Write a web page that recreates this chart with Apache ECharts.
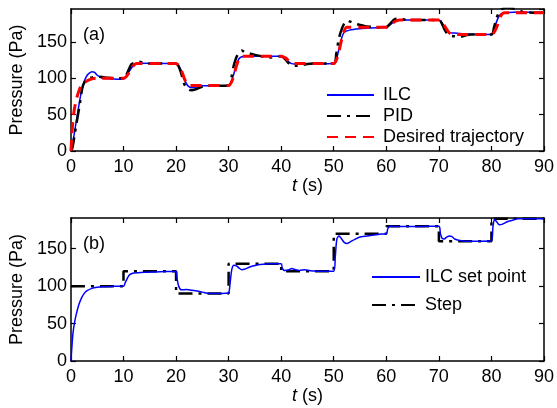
<!DOCTYPE html>
<html>
<head>
<meta charset="utf-8">
<script src="https://cdn.jsdelivr.net/npm/echarts@6.0.0/dist/echarts.min.js"></script>
<style>
  html, body { margin: 0; padding: 0; background: #fff; }
  #chart { width: 557px; height: 408px; }
</style>
</head>
<body>
<div id="chart"></div>
<script>
// panel (a): tracking results
const desiredT = [0, 0.3, 0.6, 1, 1.5, 2, 3, 4, 5,
  10, 10.5, 11, 11.5, 12, 12.5, 20, 20.5, 21, 21.5, 22, 22.5,
  30, 30.5, 31, 31.5, 32, 32.5, 40, 40.5, 41, 41.5, 42, 42.5,
  50, 50.5, 51, 51.5, 52, 52.5, 60, 60.5, 61, 61.5, 62, 62.5,
  70, 70.5, 71, 71.5, 72, 72.5, 80, 80.5, 81, 81.5, 82, 82.5, 90]
const desiredP = [0, 35, 55, 70, 82, 90, 96, 99, 100,
  100, 102, 107, 113, 118, 120, 120, 117, 111, 101, 93, 90,
  90, 94, 104, 117, 127, 130, 130, 129, 127, 123, 121, 120,
  120, 125, 137, 153, 165, 170, 170, 171, 174, 177, 179, 180,
  180, 178, 173, 167, 162, 160, 160, 163, 170, 181, 188, 190, 190]

const ilcT = [0, 0.5, 1, 1.5, 2, 2.5, 3, 3.5, 4, 4.5, 5, 6, 7, 8, 9,
  10, 10.5, 11, 11.5, 12, 12.5, 13, 20, 20.5, 21, 21.5, 22, 22.5, 23, 24, 25,
  30, 30.5, 31, 31.5, 32, 32.5, 33, 40, 40.5, 41, 41.5, 42, 42.5, 43,
  50, 50.5, 51, 51.5, 52, 53, 55, 57, 60, 60.5, 61, 61.5, 62, 62.5,
  70, 70.5, 71, 71.5, 72, 72.5, 73, 74, 75, 80, 80.5, 81, 81.5, 82, 83, 85, 90]
const ilcP = [0, 18, 40, 62, 82, 95, 103, 107, 109, 108, 104, 100, 99.5, 99, 98.5,
  99, 102, 108, 114, 118, 120, 120.5, 120, 117, 110, 100, 92, 88, 87, 88, 89.5,
  90, 95, 106, 119, 127, 129.5, 130, 130, 129, 126, 122, 120, 119.5, 119.5,
  120, 126, 140, 155, 163, 166, 168, 169, 170, 172, 175, 178, 179.5, 180,
  180, 177, 171, 166, 163, 162, 162, 161.5, 160.5, 160, 166, 178, 186, 189, 190, 191, 190]

const pidT = [0, 0.3, 0.7, 1, 1.3, 1.7, 2, 2.3, 2.7, 3, 4, 5, 6, 7, 8,
  10, 10.5, 11, 11.5, 12, 13, 14, 15, 20, 20.5, 21, 21.5, 22, 22.5, 23, 24, 25, 26,
  30, 30.5, 31, 31.5, 32, 32.5, 33, 34, 35, 37, 38, 40, 40.5, 41, 41.5, 42, 43, 44, 45, 46,
  50, 50.5, 51, 51.5, 52, 52.5, 53, 54, 55, 56, 57, 58, 60, 60.5, 61, 61.5, 62, 63, 64,
  70, 70.5, 71, 71.5, 72, 73, 74, 75, 76, 80, 80.5, 81, 81.5, 82, 83, 84, 85, 86, 88, 90]
const pidP = [0, 5, 22, 35, 48, 65, 80, 90, 96, 99, 101, 102, 101.5, 100.5, 100,
  100, 104, 112, 119, 121, 122.5, 121, 120, 120, 116, 106, 93, 87, 84, 83.5, 85.5, 88, 89.5,
  90, 100, 118, 129, 135, 138, 136, 134, 132, 129, 128.5, 130, 128, 124, 120, 117.5, 117, 118, 119.5, 120,
  120, 135, 155, 167, 175, 179, 178, 175, 173, 171.5, 170.5, 169.5, 170, 173, 177, 180.5, 181.5, 181, 180,
  180, 176, 168, 162, 159, 157.5, 157, 158.5, 160, 160, 170, 183, 191, 195, 197, 196, 193, 191, 190, 190]

// panel (b): set points
const setT = [0, 0.2, 0.4, 0.7, 1, 1.5, 2, 2.5, 3, 4, 5, 6, 8,
  10, 10.3, 10.7, 11, 11.5, 12, 14, 16, 18, 20, 20.2, 20.5, 21, 22, 23, 24, 25, 26, 28, 29.5,
  30, 30.3, 30.6, 31, 31.5, 32, 32.5, 33, 34, 35, 36, 38,
  40, 40.2, 40.6, 41.5, 42, 42.5, 43.5, 44.5, 45.5, 47,
  50, 50.3, 50.6, 51, 51.5, 52, 52.5, 53, 54, 55, 57, 59,
  60, 60.3, 60.7, 62, 65, 68, 70, 70.3, 70.6, 71, 71.5, 72, 72.5, 73, 74, 75, 78,
  80, 80.3, 80.6, 81, 81.5, 82, 83, 84, 85, 90]
const setP = [0, 20, 38, 52, 62, 75, 84, 90, 93.5, 97, 98.5, 99.2, 99.7,
  100, 104, 110, 114, 116.5, 117.5, 118.5, 119, 119.5, 120, 110, 100, 95, 95.5, 94.5, 93.5, 92, 90.5, 90, 90.5,
  91, 105, 122, 128, 127, 124, 122, 122.5, 125.5, 127.5, 129, 130,
  130, 124, 121, 122, 123.5, 122.5, 121, 122, 120.5, 120,
  120, 140, 163, 167, 163, 158.5, 157, 158.5, 162.5, 165.5, 167.5, 169.5,
  170, 177, 180, 179.5, 179.5, 180, 180, 170, 164, 163, 165.5, 167, 166, 163, 161, 160, 160,
  160.5, 180, 189, 186, 182, 182.5, 186, 188, 190, 190]

const stepT = [0, 10, 20, 30, 40, 50, 60, 70, 80, 90]
const stepP = [100, 120, 90, 130, 120, 170, 180, 160, 190, 190]

const zip = (t, p) => t.map((v, i) => [v, p[i]])

const FONT = '"Liberation Sans", Arial, sans-serif'
const txt = { color: '#000', fontSize: 18, fontFamily: FONT }
const frame = { show: true, onZero: false, lineStyle: { color: '#000', width: 1.5 } }
const tick = { show: true, inside: true, length: 5, lineStyle: { color: '#000', width: 1.2 } }

function xAx(grid, nameGap, labeled) {
  return {
    type: 'value', gridIndex: grid, min: 0, max: 90, interval: 10,
    position: labeled ? 'bottom' : 'top',
    axisLine: frame, axisTick: tick, splitLine: { show: false },
    axisLabel: labeled ? { ...txt, margin: 7 } : { show: false },
    name: labeled ? '{i|t} (s)' : '',
    nameLocation: 'middle', nameGap: nameGap,
    nameTextStyle: { ...txt, rich: { i: { ...txt, fontStyle: 'italic' } } }
  }
}
function yAx(grid, max, labeled) {
  return {
    type: 'value', gridIndex: grid, min: 0, max: max, interval: 50,
    position: labeled ? 'left' : 'right',
    axisLine: frame, axisTick: tick, splitLine: { show: false },
    axisLabel: labeled ? { ...txt, margin: 4, showMaxLabel: false } : { show: false },
    name: labeled ? 'Pressure (Pa)' : '',
    nameLocation: 'middle', nameGap: 42, nameTextStyle: txt
  }
}

const chart = echarts.init(document.getElementById('chart'))
chart.setOption({
  animation: false,
  backgroundColor: '#fff',
  title: [
    { text: '(a)', left: 78, top: 21, textStyle: { ...txt, fontWeight: 'normal' } },
    { text: '(b)', left: 78, top: 230, textStyle: { ...txt, fontWeight: 'normal' } }
  ],
  grid: [
    { left: 68, right: 11, top: 9, height: 142 },
    { left: 68, right: 11, top: 218, height: 143 }
  ],
  xAxis: [xAx(0, 21, true), xAx(0, 0, false), xAx(1, 18, true), xAx(1, 0, false)],
  yAxis: [yAx(0, 195, true), yAx(0, 195, false), yAx(1, 191, true), yAx(1, 191, false)],
  legend: [
    {
      data: ['ILC', 'PID', 'Desired trajectory'],
      orient: 'vertical', left: 321, top: 81,
      itemWidth: 47, itemHeight: 14, itemGap: 3,
      itemStyle: { opacity: 0 },
      textStyle: { ...txt, lineHeight: 18, padding: [0, 0, 0, 4] }
    },
    {
      data: ['ILC set point', 'Step'],
      orient: 'vertical', left: 366, top: 263,
      itemWidth: 48, itemHeight: 14, itemGap: 10,
      itemStyle: { opacity: 0 },
      textStyle: { ...txt, lineHeight: 18 }
    }
  ],
  series: [
    {
      name: 'ILC', type: 'line', xAxisIndex: 0, yAxisIndex: 0,
      data: zip(ilcT, ilcP), showSymbol: false, symbol: 'none', smooth: 0.3,
      lineStyle: { color: '#0000ff', width: 1.5 }, itemStyle: { color: '#0000ff' }
    },
    {
      name: 'PID', type: 'line', xAxisIndex: 0, yAxisIndex: 0,
      data: zip(pidT, pidP), showSymbol: false, symbol: 'none', smooth: 0.3,
      lineStyle: { color: '#000', width: 2.5, type: [14, 6, 3, 6] }, itemStyle: { color: '#000' }
    },
    {
      name: 'Desired trajectory', type: 'line', xAxisIndex: 0, yAxisIndex: 0,
      data: zip(desiredT, desiredP), showSymbol: false, symbol: 'none', smooth: 0.3,
      lineStyle: { color: '#ff0000', width: 3, type: [11, 7] }, itemStyle: { color: '#ff0000' }
    },
    {
      name: 'Step', type: 'line', xAxisIndex: 2, yAxisIndex: 2,
      data: zip(stepT, stepP), step: 'end', showSymbol: false, symbol: 'none',
      lineStyle: { color: '#000', width: 2.5, type: [14, 6, 3, 6] }, itemStyle: { color: '#000' }
    },
    {
      name: 'ILC set point', type: 'line', xAxisIndex: 2, yAxisIndex: 2,
      data: zip(setT, setP), showSymbol: false, symbol: 'none', smooth: 0.3,
      lineStyle: { color: '#0000ff', width: 1.5 }, itemStyle: { color: '#0000ff' }
    }
  ]
})
</script>
</body>
</html>
